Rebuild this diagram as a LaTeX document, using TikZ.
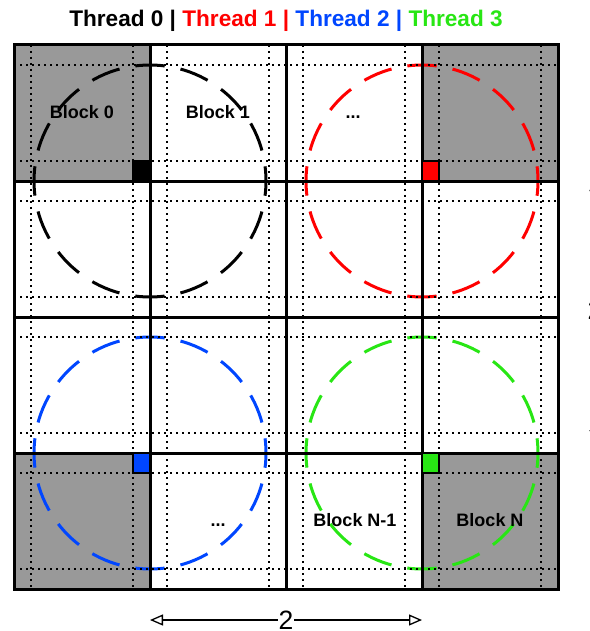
\documentclass[tikz,border=0pt]{standalone}
\usepackage{fontspec}
\setmainfont{Liberation Sans}
\usetikzlibrary{arrows.meta}
\definecolor{tred}{RGB}{255,0,0}
\definecolor{tblue}{RGB}{0,70,255}
\definecolor{tgreen}{RGB}{40,230,20}
\definecolor{blockgray}{RGB}{153,153,153}
\begin{document}
\begin{tikzpicture}[x=1pt,y=-1pt,
  gridline/.style={line width=3pt},
  halo/.style={line width=2.3pt, dash pattern=on 2.2pt off 3.8pt},
  ring/.style={line width=3pt, dash pattern=on 29.4pt off 16.15pt, dash phase=14.7pt},
  corner/.style={draw=black, line width=2pt},
  lbl/.style={font=\fontsize{18}{20}\selectfont\bfseries, anchor=base, inner sep=0pt},
  dimlabel/.style={font=\fontsize{26.5}{28}\selectfont, fill=white, inner sep=1pt},
  dim/.style={line width=1.3pt, {Triangle[open,length=13pt,width=11pt]}-{Triangle[open,length=13pt,width=11pt]}},
]
\useasboundingbox (0,0) rectangle (589,631);
% gray blocks
\fill[blockgray] (14,45) rectangle (150,181);
\fill[blockgray] (422,45) rectangle (558,181);
\fill[blockgray] (14,453) rectangle (150,589);
\fill[blockgray] (422,453) rectangle (558,589);
% dashed circles
\draw[ring, black] (150,181) circle[radius=116pt];
\draw[ring, tred] (422,181) circle[radius=116pt];
\draw[ring, tblue] (150,453) circle[radius=116pt];
\draw[ring, tgreen] (422,453) circle[radius=116pt];
% dotted halo lines
\foreach \v in {31,133,167,269,303,405,439,541} {
  \draw[halo] (\v,45) -- (\v,589);
}
\foreach \h in {65,161,201,297,337,433,473,569} {
  \draw[halo] (14,\h) -- (558,\h);
}
% solid grid
\foreach \v in {150,286,422} {
  \draw[gridline] (\v,45) -- (\v,589);
}
\foreach \h in {181,317,453} {
  \draw[gridline] (14,\h) -- (558,\h);
}
\draw[gridline] (14,45) rectangle (558,589);
% corner squares
\filldraw[corner, fill=black] (133,161) rectangle (150,181);
\filldraw[corner, fill=tred] (422,161) rectangle (439,181);
\filldraw[corner, fill=tblue] (133,453) rectangle (150,473);
\filldraw[corner, fill=tgreen] (422,453) rectangle (439,473);
% labels
\node[lbl] (b0) at (82,119) {Block 0};
\node[lbl] (b1) at (218,119) {Block 1};
\node[lbl] (dots1) at (353,119) {...};
\node[lbl] (dots2) at (218,526) {...};
\node[lbl] (bn1) at (355,526) {Block N-1};
\node[lbl] (bn) at (490,526) {Block N};
% title
\node[font=\fontsize{22.6}{24}\selectfont\bfseries, anchor=base, inner sep=0pt] (title) at (286,27)
  {Thread 0 | \textcolor{tred}{Thread 1 |} \textcolor{tblue}{Thread 2 |} \textcolor{tgreen}{Thread 3}};
% dimension arrows
\coordinate (hl) at (150,620);
\coordinate (hr) at (422,620);
\draw[dim] (hl) -- node[dimlabel] (hlab) {2} (hr);
\coordinate (vt) at (595,178);
\coordinate (vb) at (595,443);
\draw[dim] (vt) -- node[dimlabel] (vlab) {2} (vb);
\end{tikzpicture}
\end{document}
